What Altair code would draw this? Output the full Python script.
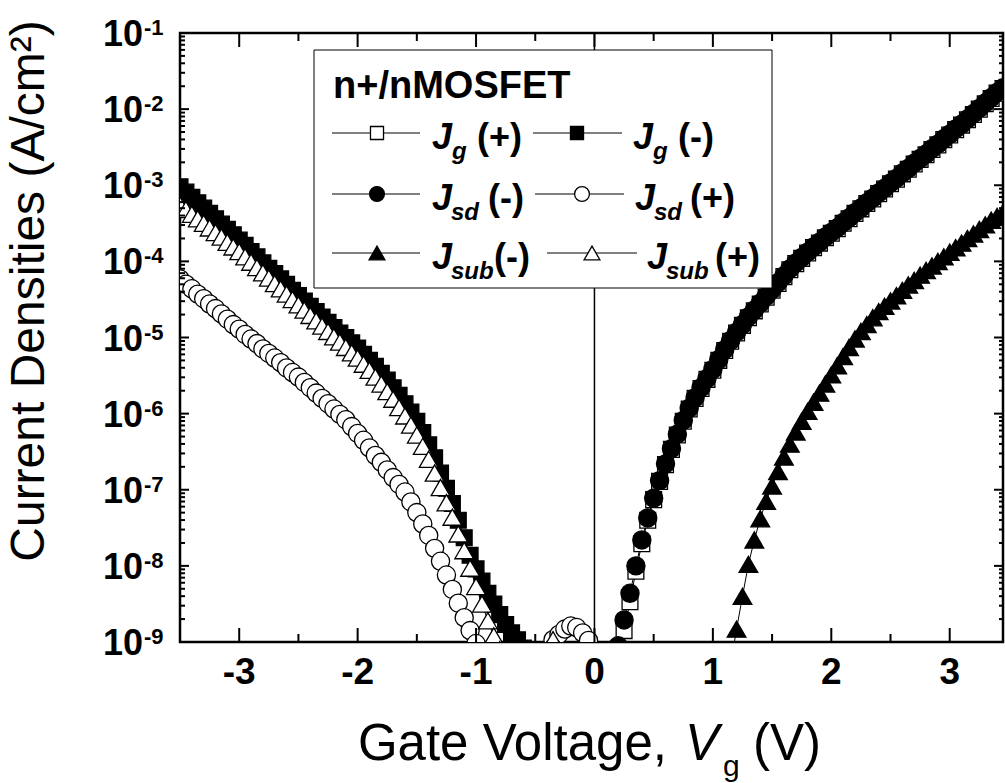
import altair as alt
import pandas as pd

# ---------------- data (log10 of J in A/cm^2) ----------------
V_left = [-3.50, -3.45, -3.40, -3.35, -3.30, -3.25, -3.20, -3.15, -3.10, -3.05,
          -3.00, -2.95, -2.90, -2.85, -2.80, -2.75, -2.70, -2.65, -2.60, -2.55,
          -2.50, -2.45, -2.40, -2.35, -2.30, -2.25, -2.20, -2.15, -2.10, -2.05,
          -2.00, -1.95, -1.90, -1.85, -1.80, -1.75, -1.70, -1.65, -1.60, -1.55,
          -1.50, -1.45, -1.40, -1.35, -1.30, -1.25, -1.20, -1.15, -1.10, -1.05,
          -1.00, -0.95, -0.90, -0.85, -0.80, -0.75, -0.70, -0.65, -0.60]
V_right = [0.15, 0.20, 0.25, 0.30, 0.35, 0.40, 0.45, 0.50, 0.55, 0.60,
           0.65, 0.70, 0.75, 0.80, 0.85, 0.90, 0.95, 1.00, 1.05, 1.10,
           1.15, 1.20, 1.25, 1.30, 1.35, 1.40, 1.45, 1.50, 1.55, 1.60,
           1.65, 1.70, 1.75, 1.80, 1.85, 1.90, 1.95, 2.00, 2.05, 2.10,
           2.15, 2.20, 2.25, 2.30, 2.35, 2.40, 2.45, 2.50, 2.55, 2.60,
           2.65, 2.70, 2.75, 2.80, 2.85, 2.90, 2.95, 3.00, 3.05, 3.10,
           3.15, 3.20, 3.25, 3.30, 3.35, 3.40, 3.45]

lg_Jg_minus = [-3.02, -3.09, -3.16, -3.23, -3.30, -3.37, -3.44, -3.51, -3.58, -3.65,
               -3.72, -3.79, -3.87, -3.94, -4.02, -4.09, -4.16, -4.23, -4.30, -4.38,
               -4.45, -4.52, -4.59, -4.66, -4.73, -4.80, -4.87, -4.94, -5.00, -5.07,
               -5.14, -5.22, -5.30, -5.38, -5.47, -5.56, -5.66, -5.76, -5.87, -5.98,
               -6.10, -6.25, -6.41, -6.58, -6.78, -6.98, -7.18, -7.40, -7.63, -7.86,
               -8.04, -8.20, -8.36, -8.50, -8.64, -8.77, -8.88, -8.97, -9.08]
lg_Jsub_plus = [-3.26, -3.32, -3.38, -3.44, -3.50, -3.56, -3.62, -3.68, -3.75, -3.81,
                -3.87, -3.94, -4.01, -4.08, -4.15, -4.22, -4.29, -4.36, -4.43, -4.50,
                -4.57, -4.64, -4.71, -4.78, -4.85, -4.92, -4.99, -5.06, -5.13, -5.20,
                -5.27, -5.35, -5.43, -5.52, -5.61, -5.71, -5.81, -5.92, -6.03, -6.15,
                -6.28, -6.43, -6.60, -6.78, -6.97, -7.17, -7.36, -7.58, -7.80, -8.03,
                -8.27, -8.50, -8.72, -8.92, -9.10]
lg_Jsd_plus = [-4.23, -4.30, -4.36, -4.43, -4.49, -4.56, -4.62, -4.69, -4.76, -4.83,
               -4.89, -4.96, -5.02, -5.08, -5.15, -5.21, -5.27, -5.33, -5.40, -5.46,
               -5.52, -5.59, -5.66, -5.73, -5.80, -5.87, -5.94, -6.01, -6.08, -6.17,
               -6.26, -6.35, -6.45, -6.55, -6.64, -6.74, -6.84, -6.93, -7.03, -7.16,
               -7.30, -7.45, -7.60, -7.77, -7.94, -8.12, -8.31, -8.49, -8.68, -8.85,
               -9.02]
lg_Jsd_minus = [-9.30, -9.05, -8.71, -8.36, -8.00, -7.66, -7.37, -7.11, -6.88, -6.66,
                -6.46, -6.27, -6.09, -5.93, -5.79, -5.66, -5.54, -5.42, -5.29, -5.16,
                -5.04, -4.93, -4.83, -4.73, -4.64, -4.55, -4.46, -4.37, -4.28, -4.19,
                -4.10, -4.02, -3.95, -3.88, -3.81, -3.75, -3.68, -3.62, -3.56, -3.49,
                -3.43, -3.36, -3.30, -3.23, -3.17, -3.10, -3.04, -2.97, -2.91, -2.84,
                -2.78, -2.71, -2.65, -2.59, -2.52, -2.46, -2.39, -2.33, -2.26, -2.20,
                -2.13, -2.06, -1.99, -1.92, -1.85, -1.78, -1.72]
lg_Jg_plus = [-9.40, -9.20, -8.85, -8.47, -8.07, -7.71, -7.40, -7.13, -6.89, -6.67,
              -6.47, -6.28, -6.10, -5.94, -5.80, -5.67, -5.55, -5.43, -5.30, -5.17,
              -5.05, -4.94, -4.84, -4.74, -4.65, -4.56, -4.47, -4.38, -4.29, -4.20,
              -4.11, -4.03, -3.96, -3.89, -3.82, -3.76, -3.69, -3.63, -3.57, -3.50,
              -3.44, -3.37, -3.31, -3.24, -3.18, -3.11, -3.05, -2.98, -2.92, -2.85,
              -2.79, -2.72, -2.66, -2.60, -2.53, -2.47, -2.40, -2.34, -2.27, -2.21,
              -2.14, -2.07, -2.00, -1.93, -1.86, -1.79, -1.73]
lg_Jsub_minus = [-9.30, -8.83, -8.40, -7.98, -7.66, -7.38, -7.15, -6.95, -6.76, -6.57,
                 -6.40, -6.24, -6.10, -5.97, -5.85, -5.73, -5.61, -5.49, -5.37, -5.25,
                 -5.13, -5.02, -4.92, -4.83, -4.74, -4.66, -4.59, -4.52, -4.45, -4.38,
                 -4.31, -4.25, -4.18, -4.12, -4.06, -4.00, -3.94, -3.88, -3.82, -3.76,
                 -3.70, -3.64, -3.58, -3.52, -3.46, -3.41, -3.36]
# small noise-floor readings near 0 V
V_Jsd_plus_low = [-0.35, -0.30, -0.25, -0.20, -0.15, -0.10, -0.05]
lg_Jsd_plus_low = [-8.97, -8.90, -8.83, -8.79, -8.81, -8.88, -8.98]
V_Jsub_plus_low = [-0.40, -0.35, -0.30]
lg_Jsub_plus_low = [-9.10, -8.97, -9.10]

series_order = ["Jg+", "Jg-", "Jsd-", "Jsd+", "Jsub-", "Jsub+"]
shapes = ["square", "square", "circle", "circle", "triangle-up", "triangle-up"]
fills = ["white", "black", "black", "white", "black", "white"]
sizes = [250, 250, 330, 330, 350, 350]
legend_sizes = [170, 170, 220, 220, 250, 250]

x_major = [-3, -2, -1, 0, 1, 2, 3]
x_labels = ["-3", "-2", "-1", "0", "1", "2", "3"]
x_minor = [-2.5, -1.5, -0.5, 0.5, 1.5, 2.5]
y_exps = [-9, -8, -7, -6, -5, -4, -3, -2, -1]

# ---------------- tables ----------------
rows = []


def add(name, seg, vs, lgs):
    for v, l in zip(vs, lgs):
        rows.append({"series": name, "seg": seg, "V": v, "lg": l})


add("Jg+", "Jg+", V_right, lg_Jg_plus)
add("Jg-", "Jg-", V_left, lg_Jg_minus)
add("Jsd-", "Jsd-", V_right, lg_Jsd_minus)
add("Jsd+", "Jsd+", V_left[:51], lg_Jsd_plus)
add("Jsd+", "Jsd+low", V_Jsd_plus_low, lg_Jsd_plus_low)
add("Jsub-", "Jsub-", V_right[20:], lg_Jsub_minus)
add("Jsub+", "Jsub+", V_left[:55], lg_Jsub_plus)
add("Jsub+", "Jsub+low", V_Jsub_plus_low, lg_Jsub_plus_low)
df = pd.DataFrame(rows)
df["J"] = 10.0 ** df["lg"]

xmaj_df = pd.DataFrame({"v": x_major, "lab": x_labels})
xmin_df = pd.DataFrame({"v": x_minor})
ymaj_df = pd.DataFrame({"e": y_exps, "sup": [str(e) for e in y_exps]})
ymaj_df["val"] = 10.0 ** ymaj_df["e"]
ymin_df = pd.DataFrame({"val": [k * 10.0 ** n for n in range(-9, -1) for k in range(2, 10)]})
zero_df = pd.DataFrame({"v": [0]})
one = pd.DataFrame({"a": [0]})

W, H = 823, 609
F = "Liberation Sans"
xs = alt.Scale(domain=[-3.5, 3.45], nice=False, zero=False)
ys = alt.Scale(type="log", domain=[1e-9, 1e-1], nice=False)
X = lambda f: alt.X(f, scale=xs, axis=None)
Y = lambda f: alt.Y(f, scale=ys, axis=None)

layers = []

# zero line
layers.append(alt.Chart(zero_df).mark_rule(color="black", strokeWidth=1.5).encode(
    x=X("v:Q"), y=alt.value(0), y2=alt.value(H)))

# connecting lines
layers.append(alt.Chart(df).mark_line(color="black", strokeWidth=1, clip=True).encode(
    x=X("V:Q"), y=Y("J:Q"), detail="seg:N", order="V:Q"))

# markers, one layer per series (drawing order = series_order)
for i, s in enumerate(series_order):
    layers.append(alt.Chart(df).transform_filter(alt.datum.series == s).mark_point(
        filled=True, stroke="black", strokeWidth=1.3, opacity=1, clip=True,
        shape=shapes[i], fill=fills[i], size=sizes[i]).encode(
        x=X("V:Q"), y=Y("J:Q")))

# ticks (inward, all four sides)
tick = dict(color="black", strokeWidth=2)
for y0, y1, d in [(H, H - 14, xmaj_df), (0, 14, xmaj_df), (H, H - 8, xmin_df), (0, 8, xmin_df)]:
    layers.append(alt.Chart(d).mark_rule(**tick).encode(x=X("v:Q"), y=alt.value(y0), y2=alt.value(y1)))
for x0, x1, d in [(0, 9, ymaj_df), (W, W - 9, ymaj_df), (0, 5, ymin_df), (W, W - 4, ymin_df)]:
    layers.append(alt.Chart(d).mark_rule(**tick).encode(y=Y("val:Q"), x=alt.value(x0), x2=alt.value(x1)))

# x tick labels
layers.append(alt.Chart(xmaj_df).mark_text(font=F, fontSize=37, fontWeight="bold", align="center",
                                           baseline="alphabetic").encode(
    x=X("v:Q"), y=alt.value(651), text="lab:N"))
# y tick labels 10^n
layers.append(alt.Chart(ymaj_df).mark_text(font=F, fontSize=36, fontWeight="bold", align="right",
                                           baseline="alphabetic", dy=13).encode(
    y=Y("val:Q"), x=alt.value(-37), text=alt.value("10")))
layers.append(alt.Chart(ymaj_df).mark_text(font=F, fontSize=22, fontWeight="bold", align="left",
                                           baseline="alphabetic", dy=2, dx=1).encode(
    y=Y("val:Q"), x=alt.value(-37), text="sup:N"))


def txt(s, x, y, size, align="left", style="normal", angle=0, dy=0, weight="normal"):
    m = dict(font=F, fontSize=size, align=align, baseline="alphabetic", fontStyle=style, dy=dy,
             fontWeight=weight)
    if angle:
        m["angle"] = angle
    return alt.Chart(one).mark_text(**m).encode(x=alt.value(x), y=alt.value(y), text=alt.value(s))


# axis titles
layers.append(txt("Current Densities (A/cm²)", -136, 258, 48, align="center", angle=270))
layers.append(txt("Gate Voltage,", 487, 727, 51, align="right"))
layers.append(txt("V", 505, 727, 51, style="italic"))
layers.append(txt("g", 543, 743, 30))
layers.append(txt("(V)", 573, 727, 51))

# legend
layers.append(alt.Chart(one).mark_rect(fill="white", stroke="black", strokeWidth=1).encode(
    x=alt.value(134), x2=alt.value(592), y=alt.value(17), y2=alt.value(255)))
layers.append(txt("n+/nMOSFET", 153, 65, 38, weight="bold"))
legend_items = [
    # key, line x1, line x2, marker x, row y, J x, sub, sub x, paren, paren x
    ("Jg+", 152, 240, 197, 100, 252, "g", 272, "(+)", 297),
    ("Jg-", 353, 442, 397, 100, 453, "g", 473, "(-)", 498),
    ("Jsd-", 152, 240, 197, 161, 252, "sd", 271, "(-)", 308),
    ("Jsd+", 355, 444, 402, 161, 455, "sd", 474, "(+)", 510),
    ("Jsub-", 152, 240, 197, 220, 252, "sub", 271, "(-)", 314),
    ("Jsub+", 367, 457, 412, 220, 467, "sub", 486, "(+)", 535),
]
for key, lx1, lx2, mx, ry, jx, sub, sx, par, px in legend_items:
    i = series_order.index(key)
    layers.append(alt.Chart(one).mark_rule(color="black", strokeWidth=1).encode(
        x=alt.value(lx1), x2=alt.value(lx2), y=alt.value(ry)))
    layers.append(alt.Chart(one).mark_point(filled=True, stroke="black", strokeWidth=1.3, opacity=1,
                                            shape=shapes[i], fill=fills[i], size=legend_sizes[i]).encode(
        x=alt.value(mx), y=alt.value(ry)))
    layers.append(txt("J", jx, ry, 36, style="italic", dy=16, weight="bold"))
    layers.append(txt(sub, sx, ry, 24, style="italic", dy=26, weight="bold"))
    layers.append(txt(par, px, ry, 36, dy=16, weight="bold"))

chart = alt.layer(*layers).properties(
    width=W, height=H,
    autosize=alt.AutoSizeParams(type="none"),
    padding={"left": 180, "top": 33, "right": 2, "bottom": 141},
).configure_view(stroke="black", strokeWidth=2.5)

chart.save("out.html", embed_options={"renderer": "svg", "actions": False})
